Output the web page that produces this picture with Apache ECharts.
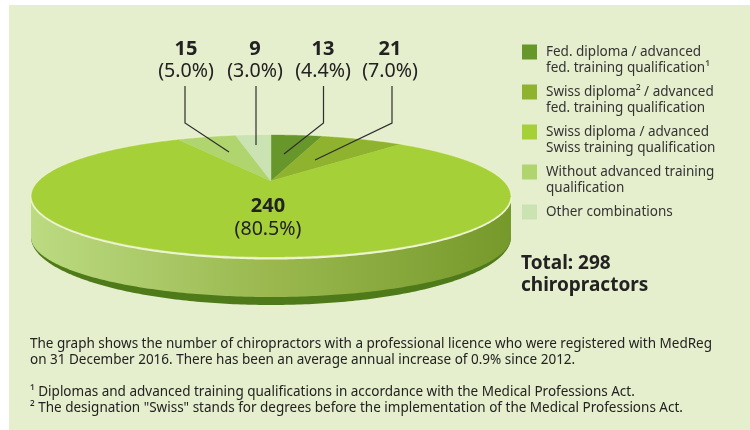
<!DOCTYPE html>
<html><head><meta charset="utf-8">
<style>html,body{margin:0;padding:0;background:#fff}#c{width:750px;height:430px}</style>
<script src="https://cdn.jsdelivr.net/npm/echarts@6/dist/echarts.min.js"></script>
</head><body><div id="c"></div>
<script>
const categories = [
  'Fed. diploma / advanced\nfed. training qualification¹',
  'Swiss diploma² / advanced\nfed. training qualification',
  'Swiss diploma / advanced\nSwiss training qualification',
  'Without advanced training\nqualification',
  'Other combinations'
];
const counts = [13, 21, 240, 15, 9];
const percentLabels = ['(4.4%)', '(7.0%)', '(80.5%)', '(5.0%)', '(3.0%)'];
const colors = ['#67972b', '#8fb32f', '#a6d037', '#b0d46e', '#cbe2b3'];
const totalLines = ['Total: 298', 'chiropractors'];
const noteLines = [
  'The graph shows the number of chiropractors with a professional licence who were registered with MedReg',
  'on 31 December 2016. There has been an average annual increase of 0.9% since 2012.',
  '¹ Diplomas and advanced training qualifications in accordance with the Medical Professions Act.',
  '² The designation "Swiss" stands for degrees before the implementation of the Medical Professions Act.'
];

const FONT = '"Noto Sans", sans-serif';
const INK = '#222222';
// perspective disc: maps the unit circle to an ellipse whose projected centre sits behind the ellipse centre
const G = {cx: 271, cy: 181, W: 232, B: 57.3, k: 0.246};
const E = {cx: 271, cy: 196, a: 240, b: 61.5, depth: 41};
// label placement: [text x, elbow/line x, elbow y or null, end x, end y]
const LABEL_POS = [
  [323, 323.5, 123, 284, 154],
  [390, 392, 123, 315, 160],
  null,
  [186, 185, 123, 229, 152],
  [255, 256, null, 256, 145]
];
const total = counts.reduce((a, b) => a + b, 0);

function discPoint(theta) {
  const u = Math.sin(theta), v = Math.cos(theta), d = 1 + G.k * v;
  return [G.cx + G.W * u / d, G.cy - G.B * v / d];
}
function sliceRender(i) {
  return function (params, api) {
    const before = counts.slice(0, i).reduce((a, b) => a + b, 0);
    const a0 = before / total * 2 * Math.PI;
    const a1 = a0 + api.value(0) / total * 2 * Math.PI;
    const pts = [[G.cx, G.cy]];
    const n = Math.max(4, Math.ceil((a1 - a0) / 0.01));
    for (let s = 0; s <= n; s++) pts.push(discPoint(a0 + (a1 - a0) * s / n));
    return {type: 'polygon', shape: {points: pts},
      style: {fill: colors[i], stroke: colors[i], lineWidth: 0.4}};
  };
}
function arc(cy, a, b, from, to) {
  const pts = [];
  for (let s = 0; s <= 200; s++) {
    const t = from + (to - from) * s / 200;
    pts.push([E.cx + a * Math.cos(t), cy + b * Math.sin(t)]);
  }
  return pts;
}
function bodyRender() {
  const bot = E.cy + E.depth;
  return {type: 'group', children: [
    {type: 'polygon', shape: {points: arc(bot, E.a, 68, 0, Math.PI)}, style: {fill: '#4f7a1a'}},
    {type: 'polygon', shape: {points: [[E.cx + E.a, E.cy]].concat(arc(bot, E.a, 60, 0, Math.PI), [[E.cx - E.a, E.cy]])},
      style: {fill: new echarts.graphic.LinearGradient(0, 0, 1, 0, [
        {offset: 0, color: '#bcdb82'}, {offset: 0.5, color: '#9ab84e'}, {offset: 1, color: '#76992b'}])}},
    {type: 'polygon', shape: {points: arc(E.cy + 0.6, E.a + 1, E.b + 1.4, 0, Math.PI)}, style: {fill: '#eef4d2'}},
    {type: 'polygon', shape: {points: arc(E.cy, E.a + 1, E.b + 1.2, Math.PI, 2 * Math.PI)}, style: {fill: '#e9f1cd'}}
  ]};
}
function labelRender() {
  const kids = [];
  counts.forEach((c, i) => {
    const p = LABEL_POS[i];
    const x = p ? p[0] : 268, y0 = p ? 49 : 206, y1 = p ? 71 : 229;
    kids.push({type: 'text', style: {x, y: y0, text: String(c), fill: INK, align: 'center', verticalAlign: 'middle',
      font: 'bold 20px ' + FONT}});
    kids.push({type: 'text', style: {x, y: y1, text: percentLabels[i], fill: INK, align: 'center', verticalAlign: 'middle',
      font: '19.6px ' + FONT}});
    if (p) {
      const pts = [[p[1], 86]];
      if (p[2] !== null) pts.push([p[1], p[2]]);
      pts.push([p[3], p[4]]);
      kids.push({type: 'polyline', shape: {points: pts}, style: {stroke: '#2d2d2d', lineWidth: 1.2, fill: null}});
    }
  });
  return {type: 'group', children: kids};
}

const series = [{type: 'custom', name: 'body', coordinateSystem: 'none', silent: true, animation: false, z: 2,
  data: [[total]], renderItem: bodyRender}];
categories.forEach((name, i) => series.push({type: 'custom', name, coordinateSystem: 'none', silent: true,
  animation: false, z: 3, itemStyle: {color: colors[i]}, data: [[counts[i]]], renderItem: sliceRender(i)}));
series.push({type: 'custom', name: 'labels', coordinateSystem: 'none', silent: true, animation: false, z: 5,
  data: [[0]], renderItem: labelRender});

const graphics = [{type: 'rect', z: -10, shape: {x: 9, y: 5, width: 741, height: 425}, style: {fill: '#e5eecd'}}];
totalLines.forEach((t, i) => graphics.push({type: 'text', z: 6, style: {x: 521, y: 264 + i * 22, text: t, fill: INK,
  verticalAlign: 'middle', font: 'bold 19px ' + FONT}}));
[344, 360, 392, 408].forEach((y, i) => graphics.push({type: 'text', z: 6, style: {x: 30, y, text: noteLines[i], fill: INK,
  verticalAlign: 'middle', font: '13.5px ' + FONT}}));

const chart = echarts.init(document.getElementById('c'), null, {renderer: 'canvas'});
chart.setOption({
  animation: false,
  backgroundColor: '#ffffff',
  legend: {
    show: true, orient: 'vertical', left: 517, top: 23, selectedMode: false,
    itemWidth: 15, itemHeight: 15, itemGap: -8, icon: 'rect',
    data: categories,
    formatter: n => ' \n' + n + (n.indexOf('\n') < 0 ? '\n ' : ''),
    textStyle: {fontFamily: FONT, fontSize: 13.5, color: '#333', lineHeight: 16, padding: [0, 0, 0, 4]}
  },
  graphic: graphics,
  series
});
</script></body></html>
